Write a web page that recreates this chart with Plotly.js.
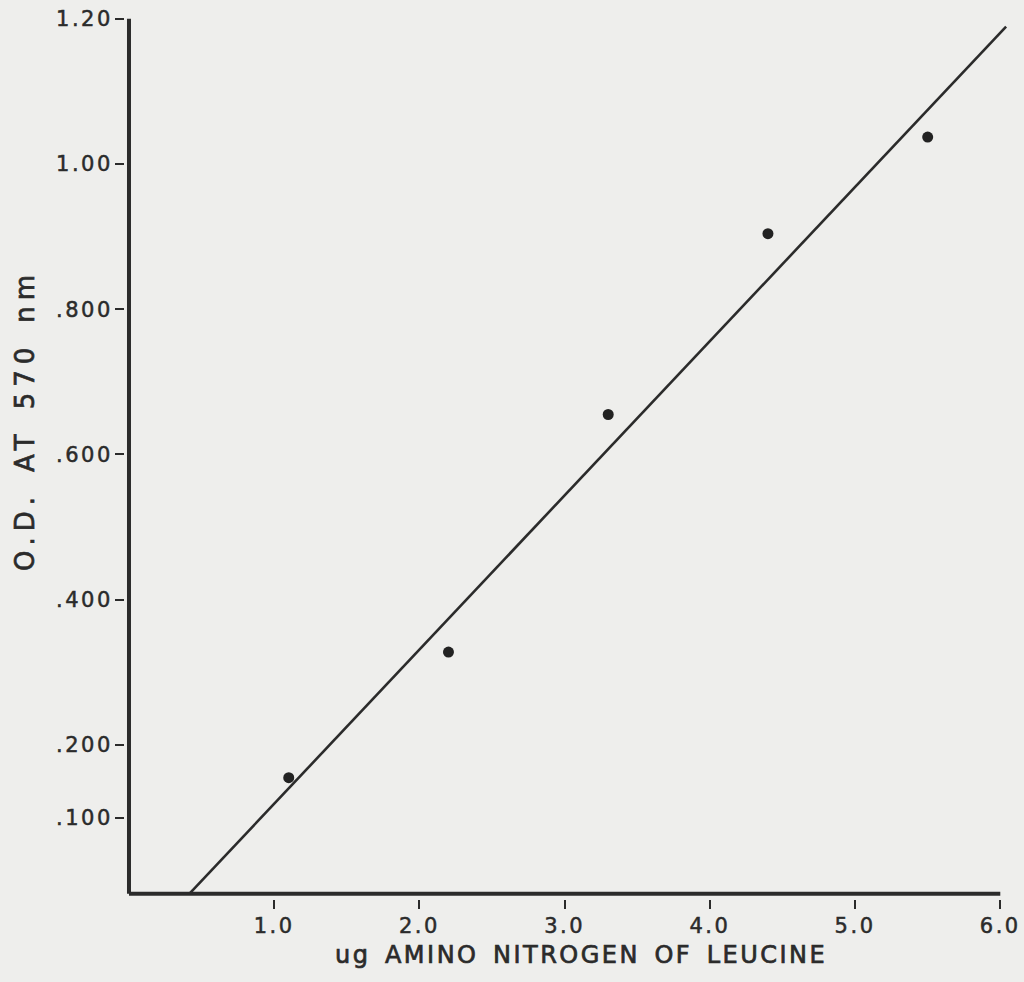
<!DOCTYPE html>
<html>
<head>
<meta charset="utf-8">
<script src="https://cdn.plot.ly/plotly-3.0.1.min.js"></script>
<style>
  html, body { margin: 0; padding: 0; background: #eeeeec; }
  #chart { width: 1024px; height: 982px; }
</style>
</head>
<body>
<div id="chart"></div>
<script>
// Leucine standard: amino nitrogen (ug) vs optical density at 570 nm
const aminoN = [1.1, 2.2, 3.3, 4.4, 5.5];
const opticalDensity = [0.155, 0.328, 0.655, 0.904, 1.037];

// Fitted calibration line (end points)
const fitX = [0.42, 6.04];
const fitY = [-0.004, 1.189];

// Axis ticks
const xTickVals = [1, 2, 3, 4, 5, 6];
const xTickText = ['1.0', '2.0', '3.0', '4.0', '5.0', '6.0'];
const yTickVals = [0.1, 0.2, 0.4, 0.6, 0.8, 1.0, 1.2];
const yTickText = ['.100', '.200', '.400', '.600', '.800', '1.00', '1.20'];

const xTitleWords = ['ug', 'AMINO', 'NITROGEN', 'OF', 'LEUCINE'];
const yTitleWords = ['O.D.', 'AT', '570', 'nm'];

const ink = '#2b2b2b';
const family = 'DejaVu Sans, sans-serif';

// wide, slightly heavy lettering-guide style text
function lettered(text, spacing, weight) {
  return '<span style="letter-spacing:' + spacing + 'px;stroke:' + ink +
         ';stroke-width:' + weight + 'px">' + text + '</span>';
}
const spaced = (words, px) => lettered(words.join('\u2002'), px, 0.7);
const spacedTicks = (labels) => labels.map(t => lettered(t, 2.5, 0.5));

const traces = [
  {
    x: fitX, y: fitY, mode: 'lines', type: 'scatter',
    line: { color: ink, width: 2.6 }, hoverinfo: 'skip'
  },
  {
    x: aminoN, y: opticalDensity, mode: 'markers', type: 'scatter',
    marker: { color: '#222', size: 11 }, cliponaxis: false
  }
];

const axisY = -0.0047;   // where the horizontal axis is drawn

const layout = {
  width: 1024, height: 982,
  margin: { l: 125, r: 15, t: 15, b: 83 },
  paper_bgcolor: '#eeeeec',
  plot_bgcolor: '#eeeeec',
  showlegend: false,
  font: { family: family, size: 20, color: ink },
  xaxis: {
    range: [-0.0275, 6.06],
    showgrid: false, zeroline: false, showline: false,
    tickmode: 'array', tickvals: xTickVals, ticktext: spacedTicks(xTickText),
    ticks: 'outside', ticklen: 9, tickwidth: 2, tickcolor: ink,
    ticklabelstandoff: -1,
    tickfont: { family: family, size: 21, color: ink }
  },
  yaxis: {
    range: [-0.012, 1.205],
    showgrid: false, zeroline: false, showline: false,
    tickmode: 'array', tickvals: yTickVals, ticktext: spacedTicks(yTickText),
    ticks: 'outside', ticklen: 9, tickwidth: 2, tickcolor: ink,
    ticklabelstandoff: -2,
    tickfont: { family: family, size: 21, color: ink }
  },
  shapes: [
    // heavy axes
    { type: 'line', xref: 'x', yref: 'y', x0: 0, x1: 0, y0: axisY, y1: 1.2,
      line: { color: ink, width: 4 } },
    { type: 'line', xref: 'x', yref: 'y', x0: 0, x1: 6, y0: axisY, y1: axisY,
      line: { color: ink, width: 4 } }
  ],
  annotations: [
    {
      text: spaced(xTitleWords, 2.5),
      xref: 'paper', yref: 'paper', x: 0.516, y: -0.063,
      xanchor: 'center', yanchor: 'middle', showarrow: false,
      font: { family: family, size: 24, color: ink }
    },
    {
      text: spaced(yTitleWords, 6),
      xref: 'paper', yref: 'paper', x: -0.113, y: 0.542,
      xanchor: 'center', yanchor: 'middle', showarrow: false, textangle: -90,
      font: { family: family, size: 26, color: ink }
    }
  ]
};

Plotly.newPlot('chart', traces, layout, { staticPlot: true, displayModeBar: false });
</script>
</body>
</html>
